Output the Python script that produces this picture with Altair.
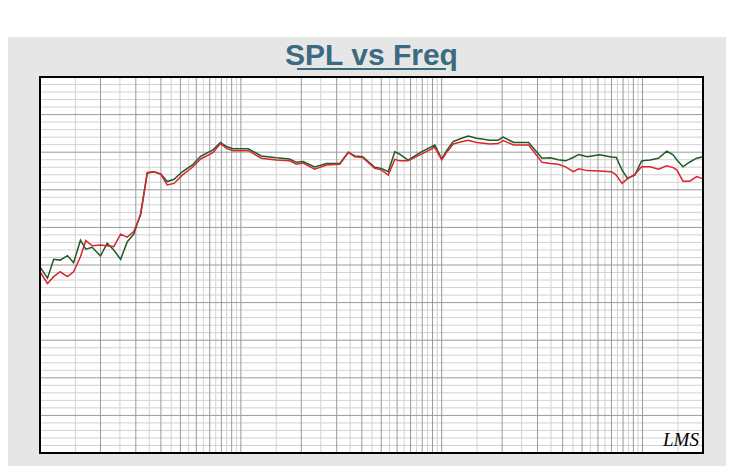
import altair as alt
import pandas as pd

# ---------------- data ----------------
series_names = ["SPL", "Spl @45°"]

freq_hz = [10, 10.9, 11.7, 12.6, 13.7, 14.7, 15.9, 16.9, 18.2, 20.0, 21.6, 23.3, 25.2,
           27.2, 29.3, 31.7, 34.2, 36.9, 39.9, 43.0, 46.5, 51.1, 57.4, 63, 72.6, 79.1,
           84.8, 91.4, 108.8, 126.5, 150, 175, 189, 204, 233, 267, 311, 343, 369, 404,
           464, 500, 542, 584, 618, 680, 793, 924, 1000, 1060, 1140, 1257, 1355, 1493,
           1740, 1910, 2023, 2285, 2710, 3158, 3480, 3800, 4140, 4518, 4820, 5300, 6100,
           7000, 7400, 7900, 8400, 9150, 9900, 10900, 12000, 13200, 14200, 14800, 15900,
           17200, 18600, 20000]

spl = [59.5, 56.5, 61.5, 61.3, 62.5, 60.6, 66.6, 64.2, 64.7, 62.4, 65.8, 64.0, 61.5,
       66.2, 68.2, 73.7, 84.4, 84.8, 84.2, 82.2, 82.8, 84.8, 86.6, 88.9, 90.6, 92.6,
       91.5, 90.9, 90.9, 89.0, 88.5, 88.2, 87.3, 87.5, 86.1, 87.0, 87.0, 90.0, 89.0, 88.8,
       86.0, 85.7, 84.8, 90.1, 89.5, 87.9, 90.1, 91.9, 88.2, 90.5, 92.8, 93.7, 94.3, 93.7,
       93.2, 93.2, 94.0, 92.6, 92.6, 88.4, 88.5, 88.0, 87.7, 88.6, 89.4, 88.8, 89.3,
       88.7, 88.6, 85.3, 83.1, 83.9, 87.7, 87.9, 88.4, 90.3, 89.3, 88.0, 86.1,
       87.4, 88.4, 88.8]

spl45 = [58.2, 55.1, 56.9, 58.2, 56.9, 58.2, 62.2, 66.5, 65.1, 65.3, 65.1, 64.9, 68.2,
         67.4, 68.9, 73.3, 84.6, 84.8, 84.2, 81.3, 81.7, 83.9, 86.0, 88.2, 89.9, 92.3,
         91.0, 90.4, 90.4, 88.4, 87.9, 87.7, 86.8, 87.1, 85.5, 86.6, 86.8, 90.0, 88.8, 88.6,
         85.7, 85.3, 83.9, 88.1, 87.7, 87.7, 89.5, 91.3, 88.0, 90.0, 92.2, 92.8, 93.2, 92.6,
         92.2, 92.3, 93.1, 91.9, 91.9, 87.3, 87.0, 86.8, 86.1, 84.8, 85.6, 85.1, 85.0,
         84.8, 83.9, 81.7, 82.9, 84.1, 86.1, 86.1, 85.5, 86.4, 85.9, 85.3, 82.3,
         82.3, 83.5, 82.9]

x_tick_values = [10, 20, 50, 100, 200, 500, 1000, 2000, 5000, 10000, 20000]
x_tick_labels = ["10  Hz", "20", "50", "100", "200", "500", "1K", "2K", "5K", "10K", "20K"]
y_tick_values = list(range(10, 111, 10))

grid_major_x = [m * 10 ** k for k in (1, 2, 3, 4) for m in range(1, 10) if m * 10 ** k <= 20000]
grid_minor_x = [(m + 0.5) * 10 ** k for k in (1, 2, 3) for m in range(1, 10)] + [15000]
grid_major_y = y_tick_values
grid_minor_y = [v for v in range(10, 111, 2) if v % 10 != 0]

title_text = "SPL vs Freq"
unit_text = "dBSPL"
brand_text = "LMS"

# ---------------- layout / style ----------------
W, H = 663, 376
NARROW = "'Liberation Sans Narrow', 'Liberation Sans', Arial, sans-serif"

df = pd.concat([
    pd.DataFrame({"freq": freq_hz, "db": spl, "series": series_names[0]}),
    pd.DataFrame({"freq": freq_hz, "db": spl45, "series": series_names[1]}),
])

xscale = alt.Scale(type="log", domain=[10, 20000], nice=False)
yscale = alt.Scale(domain=[10, 110], nice=False, zero=False)

one = pd.DataFrame({"a": [0]})

label_expr = " : ".join(
    f"datum.value == {v} ? '{t}'" for v, t in zip(x_tick_values, x_tick_labels)
) + " : ''"

panel = alt.Chart(one).mark_rect(color="#e6e6e6").encode(
    x=alt.value(-32), x2=alt.value(700), y=alt.value(-40), y2=alt.value(420))
plotbg = alt.Chart(one).mark_rect(color="white").encode(
    x=alt.value(0), x2=alt.value(W), y=alt.value(0), y2=alt.value(H))

def vrules(vals, color):
    return alt.Chart(pd.DataFrame({"g": vals})).mark_rule(color=color, strokeWidth=1).encode(
        x=alt.X("g:Q", scale=xscale, axis=None))

def hrules(vals, color):
    return alt.Chart(pd.DataFrame({"h": vals})).mark_rule(color=color, strokeWidth=1).encode(
        y=alt.Y("h:Q", scale=yscale, axis=None))

minor_x = vrules(grid_minor_x, "#d2d2d2")
minor_y = hrules(grid_minor_y, "#d2d2d2")
major_x = vrules(grid_major_x, "#9a9a9a")
major_y = hrules(grid_major_y, "#9a9a9a")

lines = alt.Chart(df).mark_line(strokeWidth=1.5).encode(
    x=alt.X("freq:Q", scale=xscale,
            axis=alt.Axis(values=x_tick_values, labelExpr=label_expr, title=None,
                          grid=False, ticks=False, domain=False, labelPadding=5,
                          labelColor="#a8305c", labelFontSize=10, labelFontWeight="bold",
                          labelFont=NARROW, labelBaseline="top",
                          labelAlign=alt.ConditionalAxisLabelAlign(
                              condition={"test": "datum.value == 10", "value": "left"},
                              value="center"))),
    y=alt.Y("db:Q", scale=yscale,
            axis=alt.Axis(values=y_tick_values, title=unit_text, grid=False, ticks=False,
                          domain=False, labelPadding=4, labelColor="#2f5f8c",
                          labelFontSize=10, labelFontWeight="bold", labelFont=NARROW,
                          titleAngle=0, titleX=1, titleY=-7, titleAlign="left",
                          titleBaseline="middle", titleColor="#2f5f8c", titleFontSize=10,
                          titleFontWeight="bold", titleFont=NARROW)),
    color=alt.Color("series:N", scale=alt.Scale(domain=series_names,
                                                range=["#1f5a25", "#d9262e"]), legend=None),
)

legend_layer = alt.Chart(pd.DataFrame({"series": series_names})).mark_square(opacity=0).encode(
    fill=alt.Fill("series:N",
                  scale=alt.Scale(domain=series_names, range=["#5cb94a", "#e8302f"]),
                  legend=alt.Legend(title=None, orient="none", direction="horizontal",
                                    legendX=262, legendY=-68, padding=0,
                                    symbolType="square", symbolSize=144,
                                    symbolStrokeWidth=0, symbolOpacity=1,
                                    labelFont="Roboto", labelFontSize=13,
                                    labelColor="#6f6f6f", labelOffset=4,
                                    columnPadding=14)))

border = alt.Chart(one).mark_rect(filled=False, stroke="black", strokeWidth=2).encode(
    x=alt.value(0), x2=alt.value(W), y=alt.value(0), y2=alt.value(H))

title = alt.Chart(one).mark_text(text=title_text, font=NARROW, fontSize=30, fontWeight="bold",
                                 color="#3b6b80", align="center", baseline="alphabetic").encode(
    x=alt.value(331.5), y=alt.value(-12))
underline = alt.Chart(one).mark_rule(color="#3b6b80", strokeWidth=2).encode(
    x=alt.value(257), x2=alt.value(406), y=alt.value(-8))
brand = alt.Chart(one).mark_text(text=brand_text, font="'Liberation Serif', serif",
                                 fontSize=19, fontStyle="italic", color="black",
                                 align="left", baseline="alphabetic").encode(
    x=alt.value(623), y=alt.value(369))

chart = alt.layer(
    panel, plotbg, minor_x, minor_y, major_x, major_y, lines, legend_layer, border,
    title, underline, brand
).properties(
    width=W, height=H,
    autosize=alt.AutoSizeParams(type="none"),
    padding={"left": 32, "top": 69, "right": 23, "bottom": 13},
    background="white",
).configure_view(strokeWidth=0)

chart.save("out.html", embed_options={"renderer": "svg", "actions": False})
